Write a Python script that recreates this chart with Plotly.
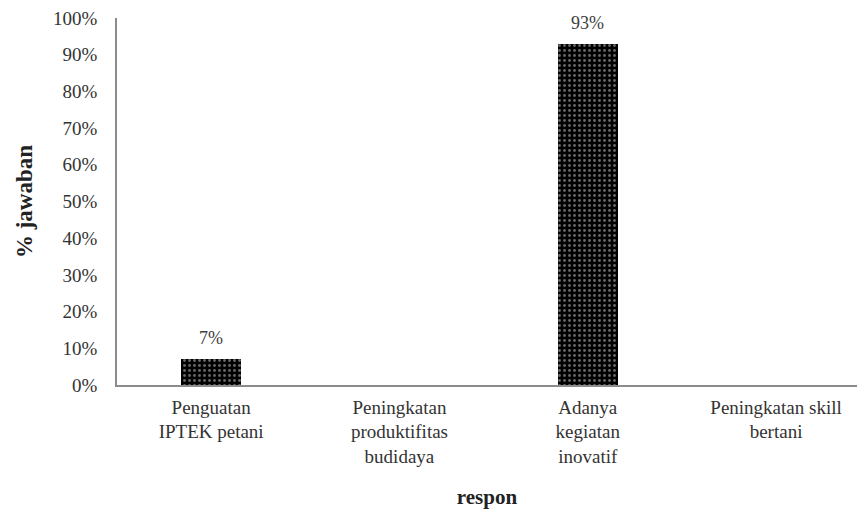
import plotly.graph_objects as go

categories = ["Penguatan<br>IPTEK petani", "Peningkatan<br>produktifitas<br>budidaya",
              "Adanya<br>kegiatan<br>inovatif", "Peningkatan skill<br>bertani"]
values = [0.07, 0, 0.93, 0]
labels = ["7%", "", "93%", ""]
y_ticks = [i / 10 for i in range(11)]
y_tick_text = [f"{i*10}%" for i in range(11)]

font_family = "Liberation Serif, Times New Roman, serif"

fig = go.Figure()
fig.add_trace(go.Bar(
    x=list(range(len(categories))),
    y=values,
    width=0.32,
    cliponaxis=False,
    marker=dict(
        color="black",
        line=dict(color="black", width=0),
        pattern=dict(shape=".", fgcolor="#d0d0d0", bgcolor="black", size=5, solidity=0.25),
    ),
))

for i, (v, t) in enumerate(zip(values, labels)):
    if t:
        fig.add_annotation(x=i, y=v, text=t, showarrow=False, yanchor="bottom", yshift=9,
                           font=dict(family=font_family, size=18, color="#404040"))

fig.update_layout(
    width=857, height=510,
    margin=dict(l=117, r=0, t=18, b=125),
    plot_bgcolor="white", paper_bgcolor="white",
    showlegend=False,
    font=dict(family=font_family, size=19, color="#333333"),
    bargap=0,
)
fig.update_xaxes(
    tickmode="array", tickvals=list(range(len(categories))), ticktext=categories,
    range=[-0.5, 3.43],
    showline=True, linecolor="#8c8c8c", linewidth=1.5,
    showgrid=False, ticks="", zeroline=False,
    tickfont=dict(family=font_family, size=19, color="#333333"),
    ticklabelstandoff=4,
    title=dict(text="<b>respon</b>", font=dict(family=font_family, size=21, color="#222222"), standoff=23),
)
fig.update_yaxes(
    range=[0, 1], tickmode="array", tickvals=y_ticks, ticktext=y_tick_text,
    showline=True, linecolor="#8c8c8c", linewidth=1.5,
    showgrid=False, ticks="", zeroline=False,
    tickfont=dict(family=font_family, size=19, color="#333333"),
    ticklabelstandoff=14,
    title=dict(text="<b>% jawaban</b>", font=dict(family=font_family, size=23, color="#222222"), standoff=14),
)

fig.write_html("out.html")
